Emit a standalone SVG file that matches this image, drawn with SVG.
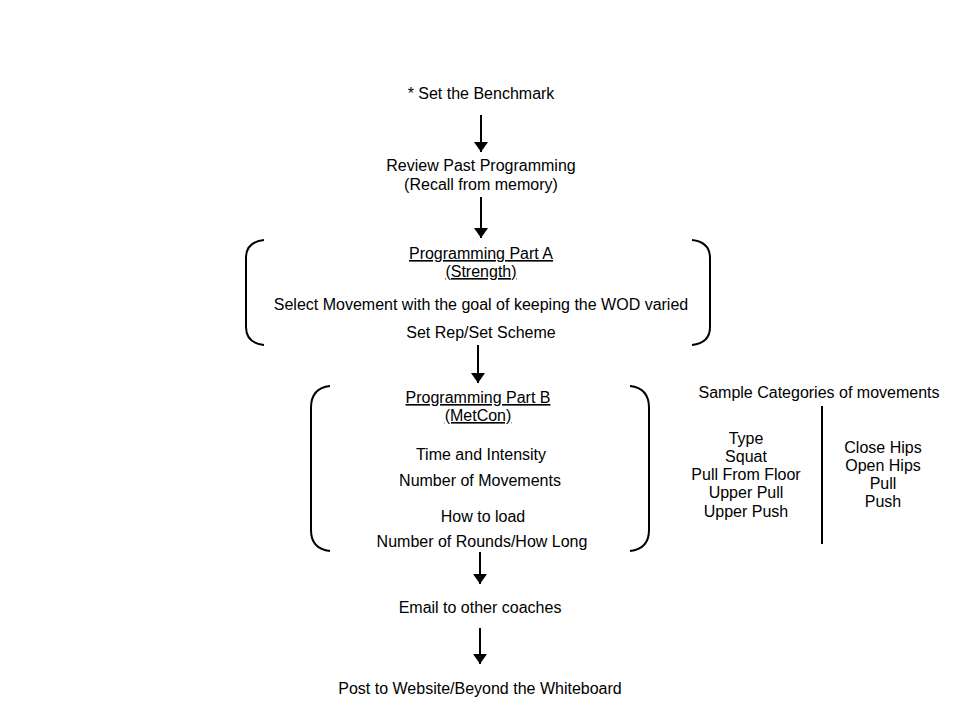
<svg xmlns="http://www.w3.org/2000/svg" width="960" height="720" viewBox="0 0 960 720">
<defs>
<marker id="ah" viewBox="0 0 10 14" refX="10" refY="7" markerWidth="10" markerHeight="14" markerUnits="userSpaceOnUse" orient="auto">
<path d="M0,0 L10,7 L0,14 Z" fill="#000"/>
</marker>
</defs>
<style>
text{font-family:"Liberation Sans",Arial,sans-serif;font-size:16px;fill:#000;text-anchor:middle}
.u{text-decoration:underline}
.br{fill:none;stroke:#000;stroke-width:2}
.c{stroke:#000;stroke-width:2;fill:none}
</style>
<rect width="960" height="720" fill="#fff"/>
<g id="n1"><text x="481" y="99">* Set the Benchmark</text></g>
<g id="n2"><text x="481" y="171">Review Past Programming</text><text x="481" y="190">(Recall from memory)</text></g>
<g id="n3">
<path class="br" d="M264,240 Q246,242 246,258 L246,327 Q246,343 264,345"/>
<path class="br" d="M692,240 Q710,242 710,258 L710,327 Q710,343 692,345"/>
<text class="u" x="481" y="259">Programming Part A</text>
<text class="u" x="481" y="277">(Strength)</text>
<text x="481" y="310">Select Movement with the goal of keeping the WOD varied</text>
<text x="481" y="338">Set Rep/Set Scheme</text>
</g>
<g id="n4">
<path class="br" d="M330,386 Q311,388 311,408 L311,530 Q311,549 330,551"/>
<path class="br" d="M630,386 Q649,388 649,408 L649,530 Q649,549 630,551"/>
<text class="u" x="478" y="403">Programming Part B</text>
<text class="u" x="478" y="421">(MetCon)</text>
<text x="481" y="460">Time and Intensity</text>
<text x="480" y="486">Number of Movements</text>
<text x="483" y="522">How to load</text>
<text x="482" y="547">Number of Rounds/How Long</text>
</g>
<g id="n5"><text x="480" y="613">Email to other coaches</text></g>
<g id="n6"><text x="480" y="694">Post to Website/Beyond the Whiteboard</text></g>
<g id="n7">
<text x="819" y="398">Sample Categories of movements</text>
<line class="c" x1="822" y1="406" x2="822" y2="544"/>
<text x="746" y="444">Type</text>
<text x="746" y="462">Squat</text>
<text x="746" y="480">Pull From Floor</text>
<text x="746" y="498">Upper Pull</text>
<text x="746" y="517">Upper Push</text>
<text x="883" y="453">Close Hips</text>
<text x="883" y="471">Open Hips</text>
<text x="883" y="489">Pull</text>
<text x="883" y="507">Push</text>
</g>
<g id="connectors">
<line class="c" x1="481" y1="115" x2="481" y2="152" marker-end="url(#ah)"/>
<line class="c" x1="481" y1="197" x2="481" y2="238" marker-end="url(#ah)"/>
<line class="c" x1="478" y1="345" x2="478" y2="383" marker-end="url(#ah)"/>
<line class="c" x1="480" y1="552" x2="480" y2="584" marker-end="url(#ah)"/>
<line class="c" x1="480" y1="628" x2="480" y2="664" marker-end="url(#ah)"/>
</g>
</svg>
